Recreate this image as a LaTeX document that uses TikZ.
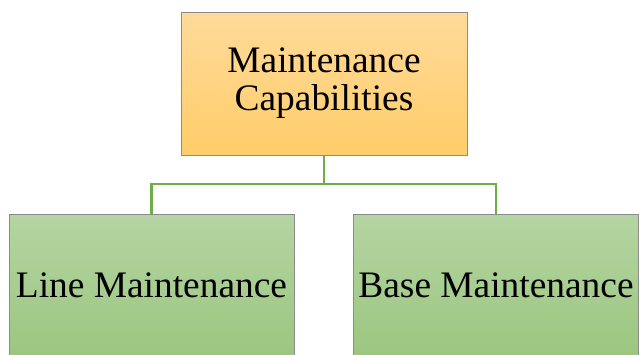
\documentclass[tikz,border=0pt]{standalone}
\usepackage{fontspec}
\setmainfont{Liberation Serif}
\newfontfamily\boxfont{Liberation Serif}
\definecolor{orangetop}{HTML}{FFDA9A}
\definecolor{orangebot}{HTML}{FFCD69}
\definecolor{greentop}{HTML}{B4D5A3}
\definecolor{greenbot}{HTML}{9BC67F}
\definecolor{linkgreen}{HTML}{70AD47}
\definecolor{edgegray}{HTML}{8C8C8C}
\begin{document}
\begin{tikzpicture}[x=1pt,y=-1pt,
    box/.style={draw=edgegray,line width=1pt,rectangle,minimum height=143pt,
        align=center,inner sep=0pt,font=\boxfont\fontsize{37.4}{38}\selectfont},
    head/.style={box,minimum width=286pt,top color=orangetop,bottom color=orangebot},
    leaf/.style={box,minimum width=285pt,top color=greentop,bottom color=greenbot},
    link/.style={linkgreen,line width=2.5pt}]
    \clip (0,0) rectangle (639,354);
    \useasboundingbox (0,0) rectangle (639,354);
    % top level
    \node[head] (cap) at (324,83.5) {Maintenance\\Capabilities};
    % second level
    \node[leaf] (line) at (151.5,285.5) {Line Maintenance};
    \node[leaf] (base) at (496,285.5) {Base Maintenance};
    % connectors
    \coordinate (fork) at (324,184);
    \draw[link] (cap.south) -- (fork);
    \draw[link] (fork) -| (line.north);
    \draw[link] (fork) -| (base.north);
\end{tikzpicture}
\end{document}
